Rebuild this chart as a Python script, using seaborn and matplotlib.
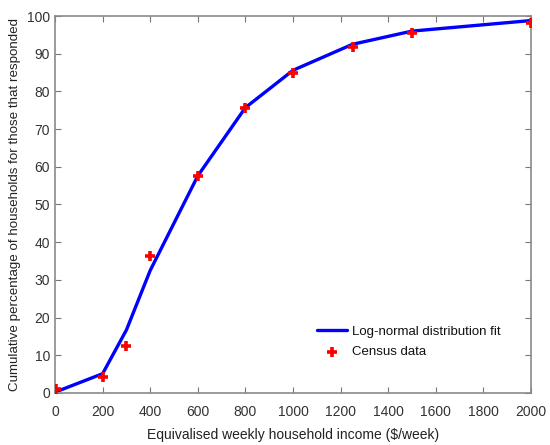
import matplotlib
matplotlib.use("Agg")
import matplotlib.pyplot as plt
import seaborn as sns
import pandas as pd

# Fit curve
fit_income = [0, 200, 300, 400, 600, 800, 1000, 1250, 1500, 2000]
fit_pct = [0.2, 5.1, 16.7, 32.5, 57.6, 75.7, 85.6, 92.5, 96.0, 98.8]

# Census data
census_income = [5, 200, 300, 400, 600, 800, 1000, 1250, 1500, 2000]
census_pct = [1.0, 4.2, 12.5, 36.2, 57.5, 75.6, 84.8, 91.9, 95.5, 98.2]

x_ticks = [0, 200, 400, 600, 800, 1000, 1200, 1400, 1600, 1800, 2000]
y_ticks = [0, 10, 20, 30, 40, 50, 60, 70, 80, 90, 100]

sns.set_theme(style="ticks")
plt.rcParams['font.family'] = ['Liberation Sans', 'DejaVu Sans']

fig = plt.figure(figsize=(5.5, 4.45), dpi=100)
ax = fig.add_axes([0.1, 0.117, 0.8655, 0.847])

fit_df = pd.DataFrame({"x": fit_income, "y": fit_pct})
cen_df = pd.DataFrame({"x": census_income, "y": census_pct})

sns.lineplot(data=fit_df, x="x", y="y", ax=ax, color="#0000ff", linewidth=2.4,
             label="Log-normal distribution fit", sort=False, zorder=2)
sns.scatterplot(data=cen_df, x="x", y="y", ax=ax, color="#ff0000", marker="+",
                s=55, linewidth=2.6, label="Census data", zorder=3)

ax.set_xlim(0, 2000)
ax.set_ylim(0, 100)
ax.set_xticks(x_ticks)
ax.set_yticks(y_ticks)
ax.set_xlabel("Equivalised weekly household income ($/week)", fontsize=10,
              color="#222222", labelpad=6)
ax.set_ylabel("Cumulative percentage of households for those that responded",
              fontsize=9.6, color="#222222")
ax.tick_params(direction="in", top=True, right=True, length=4, width=0.8,
               color="#777777", labelsize=10, labelcolor="#333333")
ax.tick_params(axis="x", pad=9)
for s in ax.spines.values():
    s.set_color("#8a8a8a")
    s.set_linewidth(1.2)

leg = ax.legend(loc="lower right", bbox_to_anchor=(0.962, 0.06), frameon=False,
                fontsize=9.5, handlelength=2.3, handletextpad=0.4, labelspacing=0.65)
for t in leg.get_texts():
    t.set_color("#111111")

fig.savefig("out.png", dpi=100)
